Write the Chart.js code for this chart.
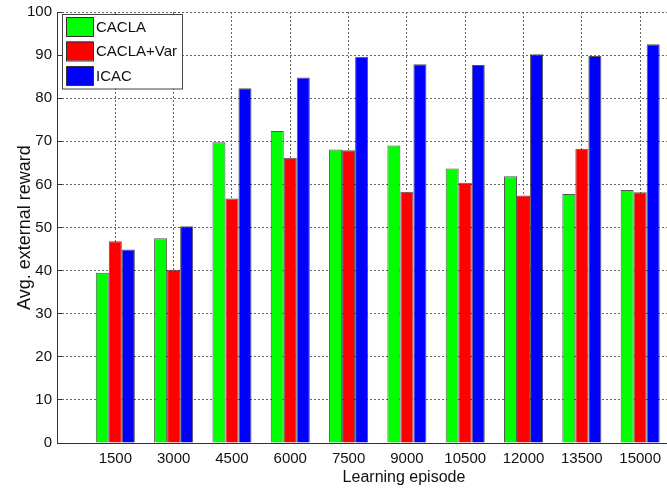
<!DOCTYPE html>
<html>
<head>
<meta charset="utf-8">
<script src="https://cdn.jsdelivr.net/npm/chart.js@4/dist/chart.umd.min.js"></script>
<style>
  html, body { margin: 0; padding: 0; background: #fff; overflow: hidden; }
  #wrap { width: 667px; height: 489px; }
</style>
</head>
<body>
<div id="wrap"><canvas id="rewardChart" width="667" height="489"></canvas></div>
<script>
// Chart data
const episodes = ["1500", "3000", "4500", "6000", "7500", "9000", "10500", "12000", "13500", "15000"];
const cacla = [39.5, 47.5, 69.8, 72.4, 68.1, 69.0, 63.7, 61.9, 57.8, 58.7];
const caclaVar = [46.8, 40.2, 56.7, 66.2, 67.9, 58.3, 60.4, 57.4, 68.3, 58.2];
const icac = [44.9, 50.3, 82.3, 84.8, 89.6, 87.9, 87.7, 90.2, 89.8, 92.5];
const yTicks = [0, 10, 20, 30, 40, 50, 60, 70, 80, 90, 100];

const FONT = "'Liberation Sans', Arial, sans-serif";

// bars sit at x = 1..10 on a linear axis, like MATLAB's bar()
const toPoints = (values) => values.map((v, i) => ({ x: i + 1, y: v }));

// legend drawn inside the plot, top-left, MATLAB style
const legendBox = {
  id: "legendBox",
  afterDraw(chart) {
    const { ctx, chartArea } = chart;
    const x = chartArea.left + 5;
    const y = chartArea.top + 2;
    const rowH = 24.5;
    ctx.save();
    ctx.font = "15px " + FONT;
    const textW = Math.max(...chart.data.datasets.map((d) => ctx.measureText(d.label).width));
    const w = 36 + textW + 3;
    const h = rowH * chart.data.datasets.length + 1;
    ctx.fillStyle = "#fff";
    ctx.fillRect(x, y, w, h);
    ctx.strokeStyle = "#444";
    ctx.lineWidth = 1;
    ctx.strokeRect(x + 0.5, y + 0.5, w, h);
    chart.data.datasets.forEach((d, i) => {
      const ry = y + 3 + i * rowH;
      ctx.fillStyle = d.backgroundColor;
      ctx.fillRect(x + 4, ry, 27, 19);
      ctx.strokeStyle = "#333";
      ctx.strokeRect(x + 4.5, ry + 0.5, 27, 19);
      ctx.fillStyle = "#111";
      ctx.textBaseline = "middle";
      ctx.fillText(d.label, x + 34, ry + 10.5);
    });
    ctx.restore();
  },
};

// x title: the original axes run past the right edge, so centre it on the full axis width
const xTitle = {
  id: "xTitle",
  afterDraw(chart) {
    const { ctx, chartArea } = chart;
    const xs = chart.scales.x;
    const fullRight = xs.getPixelForValue(11.9);
    ctx.save();
    ctx.font = "16px " + FONT;
    ctx.fillStyle = "#111";
    ctx.textAlign = "center";
    ctx.textBaseline = "middle";
    ctx.fillText("Learning episode", (chartArea.left + fullRight) / 2, chart.height - 11);
    ctx.restore();
  },
};

const ctx = document.getElementById("rewardChart").getContext("2d");
new Chart(ctx, {
  type: "bar",
  data: {
    datasets: [
      { label: "CACLA", data: toPoints(cacla), backgroundColor: "#00ff00" },
      { label: "CACLA+Var", data: toPoints(caclaVar), backgroundColor: "#ff0000" },
      { label: "ICAC", data: toPoints(icac), backgroundColor: "#0000ff" },
    ].map((d) => ({
      ...d,
      borderColor: "rgba(30,30,30,0.75)",
      borderWidth: 1,
      categoryPercentage: 0.67,
      barPercentage: 1,
    })),
  },
  options: {
    responsive: false,
    animation: false,
    layout: { padding: { top: 12, right: 0, bottom: 0, left: 0 } },
    plugins: { legend: { display: false }, tooltip: { enabled: false } },
    scales: {
      x: {
        type: "linear",
        min: 0,
        max: 10.46,
        offset: false,
        afterBuildTicks: (scale) => { scale.ticks = episodes.map((e, i) => ({ value: i + 1 })); },
        afterFit: (scale) => {
          scale.height = 46;
          scale.paddingLeft = 0;
          scale.paddingRight = 0;
        },
        grid: { offset: false, color: "#666", lineWidth: 1, drawTicks: false },
        border: { color: "#333", width: 1, dash: [2, 2] },
        ticks: {
          autoSkip: false,
          maxRotation: 0,
          padding: 7,
          color: "#111",
          font: { family: FONT, size: 15 },
          callback: (value) => episodes[value - 1] || "",
        },
        title: { display: false },
      },
      y: {
        min: yTicks[0],
        max: yTicks[yTicks.length - 1],
        afterBuildTicks: (scale) => { scale.ticks = yTicks.map((v) => ({ value: v })); },
        afterFit: (scale) => {
          scale.width = 57;
          scale.paddingTop = 0;
          scale.paddingBottom = 0;
        },
        grid: {
          color: "#666",
          lineWidth: 1,
          drawTicks: true,
          tickLength: -5,
          tickColor: "#333",
          tickBorderDash: [],
        },
        border: { color: "#333", width: 1, dash: [2, 2] },
        ticks: {
          padding: 10,
          color: "#111",
          font: { family: FONT, size: 15 },
        },
        title: {
          display: true,
          text: "Avg. external reward",
          color: "#111",
          font: { family: FONT, size: 18 },
          padding: { top: 14, bottom: 0 },
        },
      },
    },
  },
  plugins: [legendBox, xTitle],
});
</script>
</body>
</html>
